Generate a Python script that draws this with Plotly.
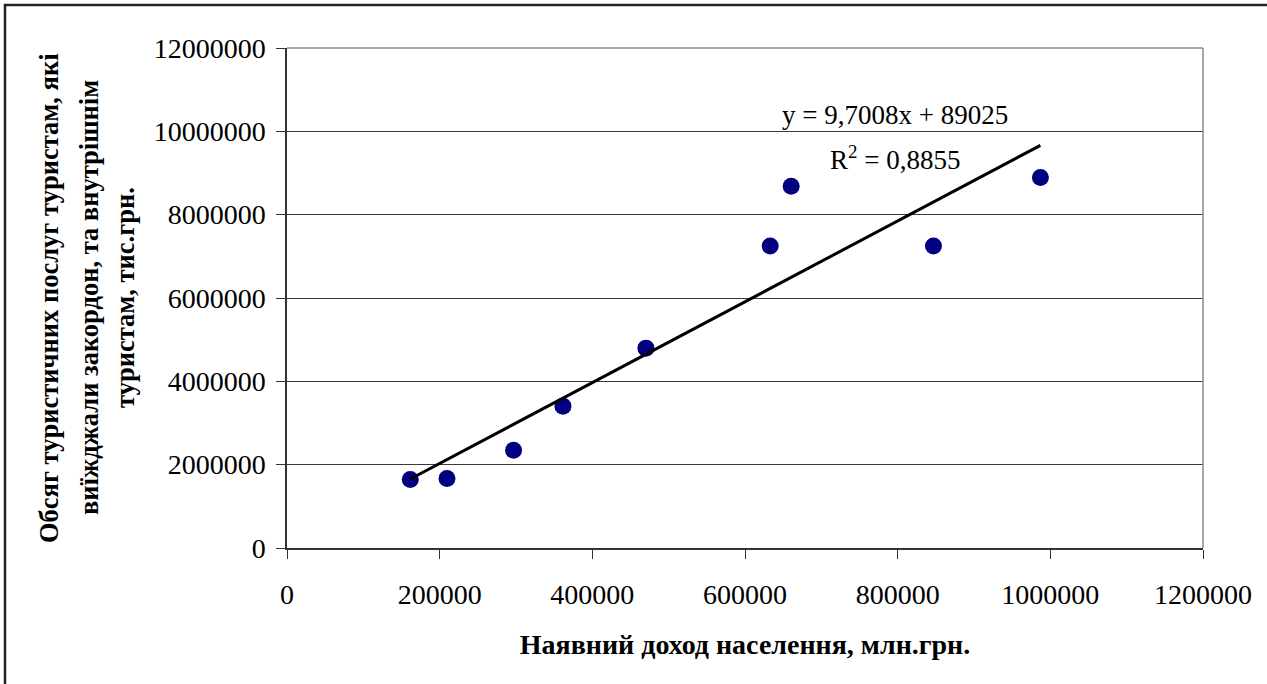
import plotly.graph_objects as go

# Data
income = [161500, 209600, 296800, 361500, 470200, 633000, 660500, 846900, 987000]
tourism = [1645000, 1669000, 2348000, 3405000, 4797000, 7246000, 8680000, 7246000, 8890000]
slope = 9.7008
intercept = 89025
r2 = 0.8855

x_ticks = [0, 200000, 400000, 600000, 800000, 1000000, 1200000]
y_ticks = [0, 2000000, 4000000, 6000000, 8000000, 10000000, 12000000]

x_title = "Наявний доход населення, млн.грн."
y_title_lines = [
    "Обсяг туристичних послуг туристам, які",
    "виїжджали закордон, та внутрішнім",
    "туристам, тис.грн.",
]

W, H = 1267, 684
L, R, T, B = 287, 1203, 48, 548
pw, ph = R - L, B - T

def px_x(p):
    return (p - L) / pw

def px_y(p):
    return (B - p) / ph

FONT = "Liberation Serif, Times New Roman, serif"

trend_x = [min(income), max(income)]
trend_y = [slope * v + intercept for v in trend_x]

fig = go.Figure()
fig.add_trace(go.Scatter(
    x=income, y=tourism, mode="markers",
    marker=dict(color="#000080", size=17, line=dict(width=0)),
    showlegend=False, hoverinfo="x+y",
))
fig.add_trace(go.Scatter(
    x=trend_x, y=trend_y, mode="lines",
    line=dict(color="black", width=3),
    showlegend=False, hoverinfo="skip",
))

fig.update_layout(
    width=W, height=H,
    margin=dict(l=L, r=W - R, t=T, b=H - B, autoexpand=False),
    paper_bgcolor="white", plot_bgcolor="white",
    font=dict(family=FONT, color="black", size=28),
    xaxis=dict(
        range=[0, 1200000], tickvals=x_ticks, ticktext=[str(v) for v in x_ticks],
        showgrid=False, zeroline=False, showline=True, linecolor="#333333", linewidth=1.5,
        ticks="outside", ticklen=9, tickcolor="#333333", tickwidth=1,
        tickfont=dict(family=FONT, size=28), ticklabelstandoff=12,
        title=dict(text="<b>" + x_title + "</b>", font=dict(family=FONT, size=28), standoff=25),
    ),
    yaxis=dict(
        range=[0, 12000000], tickvals=y_ticks, ticktext=[str(v) for v in y_ticks],
        showgrid=True, gridcolor="#3a3a3a", gridwidth=1,
        zeroline=False, showline=True, linecolor="#333333", linewidth=1.5,
        ticks="outside", ticklen=9, tickcolor="#333333", tickwidth=1,
        tickfont=dict(family=FONT, size=28), ticklabelstandoff=5,
    ),
)

# plot area right and top borders (grey)
fig.add_shape(type="line", xref="paper", yref="paper", x0=1, x1=1, y0=0, y1=1,
              line=dict(color="#8a8a8a", width=1.5))
fig.add_shape(type="line", xref="paper", yref="paper", x0=0, x1=1, y0=1, y1=1,
              line=dict(color="#8a8a8a", width=1.5))

# outer chart frame (extends past right/bottom edges)
fig.add_shape(type="rect", xref="paper", yref="paper",
              x0=px_x(5), x1=px_x(1300), y0=px_y(720), y1=px_y(5),
              line=dict(color="#222222", width=2.5), fillcolor="rgba(0,0,0,0)", layer="above")

# y-axis title lines
for line_text, cx in zip(y_title_lines, [49, 89, 125]):
    fig.add_annotation(
        xref="paper", yref="paper", x=px_x(cx), y=px_y(298),
        text="<b>" + line_text + "</b>", textangle=-90, showarrow=False,
        xanchor="center", yanchor="middle",
        font=dict(family=FONT, size=26.5, color="black"),
    )

# trendline equation
fig.add_annotation(
    xref="paper", yref="paper", x=px_x(895), y=px_y(115),
    text="y = " + f"{slope:.4f}".replace(".", ",") + "x + " + str(intercept),
    showarrow=False, xanchor="center", yanchor="middle",
    font=dict(family=FONT, size=27, color="black"),
)
fig.add_annotation(
    xref="paper", yref="paper", x=px_x(895), y=px_y(158),
    text="R<sup>2</sup> = " + f"{r2:.4f}".replace(".", ","),
    showarrow=False, xanchor="center", yanchor="middle",
    font=dict(family=FONT, size=27, color="black"),
)

fig.write_html(
    "out.html",
    config={"displayModeBar": False},
    post_script="document.body.style.margin='0';document.body.style.overflow='hidden';",
)
